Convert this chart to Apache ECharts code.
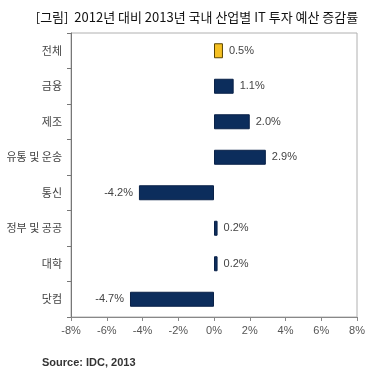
<!DOCTYPE html>
<html><head><meta charset="utf-8">
<script src="https://cdn.jsdelivr.net/npm/echarts@6/dist/echarts.min.js"></script>
<style>html,body{margin:0;padding:0;background:#fff}#c{width:368px;height:372px}</style>
</head><body><div id="c"></div>
<script>
const categories = ['전체','금융','제조','유통 및 운송','통신','정부 및 공공','대학','닷컴'];
const values = [0.5, 1.1, 2.0, 2.9, -4.2, 0.2, 0.2, -4.7];
const xTicks = [-8,-6,-4,-2,0,2,4,6,8];
const highlightCategory = '전체';

const font = '"Noto Sans CJK KR", "Noto Sans", sans-serif';
const chart = echarts.init(document.getElementById('c'));
chart.setOption({
  backgroundColor: '#fff',
  animation: false,
  title: [{
    text: '[그림]  2012년 대비 2013년 국내 산업별 IT 투자 예산 증감률',
    left: 192, top: 6, textAlign: 'center',
    textStyle: {fontSize: 13, fontWeight: 'normal', color: '#111', fontFamily: font}
  },{
    text: 'Source: IDC, 2013',
    left: 37, top: 352,
    textStyle: {fontSize: 11, fontWeight: 'bold', color: '#333', fontFamily: 'Arial, "Liberation Sans", sans-serif'}
  }],
  grid: {left: 71, right: 11, top: 33, bottom: 55, show: true, borderColor: '#b0b0b0', borderWidth: 1},
  xAxis: {
    type: 'value', min: xTicks[0], max: xTicks[xTicks.length-1], interval: 2,
    axisLine: {show: true, onZero: false, lineStyle: {color: '#888'}},
    axisTick: {show: true, length: 4, lineStyle: {color: '#888'}},
    splitLine: {show: false},
    axisLabel: {formatter: v => v + '%', color: '#555', fontSize: 11, fontFamily: 'Arial, "Liberation Sans", sans-serif', margin: 8}
  },
  yAxis: [{
    type: 'category', data: categories, inverse: true,
    axisLine: {show: false}, axisTick: {show: false},
    axisLabel: {color: '#444', fontSize: 11, fontFamily: font, margin: 9}
  },{
    type: 'category', data: categories, inverse: true, position: 'left',
    axisLine: {show: true, onZero: true, lineStyle: {color: '#777'}},
    axisTick: {show: true, length: 4, lineStyle: {color: '#777'}},
    axisLabel: {show: false}
  }],
  series: [{
    type: 'bar', yAxisIndex: 0, barWidth: 15,
    data: values.map((v, i) => ({
      value: v,
      itemStyle: categories[i] === highlightCategory
        ? {color: '#f5c023', borderColor: '#5a4400', borderWidth: 1}
        : {color: '#0c2d5c', borderColor: '#0a2248', borderWidth: 1},
      label: {position: v < 0 ? 'left' : 'right'}
    })),
    label: {show: true, formatter: p => p.value.toFixed(1) + '%', color: '#444', fontSize: 11, fontFamily: 'Arial, "Liberation Sans", sans-serif', distance: 6}
  }]
});
</script></body></html>
